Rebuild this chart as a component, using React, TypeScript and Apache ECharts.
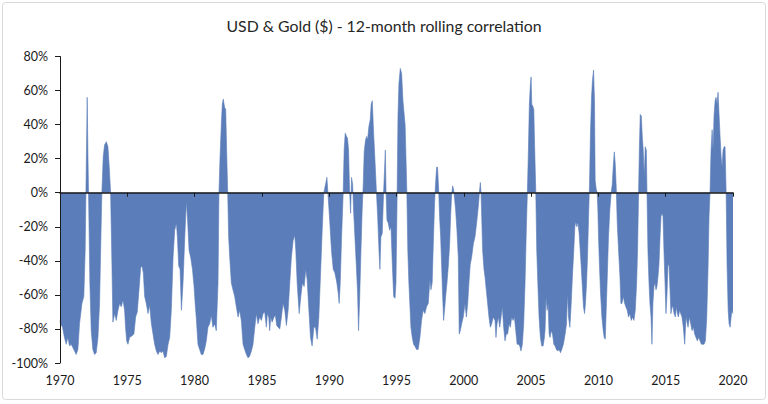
import React, { useEffect, useRef } from "react";
import * as echarts from "echarts";

const TITLE = "USD & Gold ($) - 12-month rolling correlation";
const X_TICKS = [1970, 1975, 1980, 1985, 1990, 1995, 2000, 2005, 2010, 2015, 2020];
const Y_TICKS = [-100, -80, -60, -40, -20, 0, 20, 40, 60, 80];

// [year, correlation %]
const corr1970s: [number, number][] = [
  [1970.0, -75], [1970.04, -77], [1970.19, -79], [1970.33, -85], [1970.46, -89], [1970.58, -85],
  [1970.71, -90], [1970.83, -89], [1970.96, -91], [1971.08, -93], [1971.2, -95], [1971.33, -92],
  [1971.45, -77], [1971.63, -65], [1971.77, -61], [1971.87, -34], [1971.95, 15], [1972.02, 56],
  [1972.07, 25], [1972.12, 0], [1972.22, -53], [1972.32, -81], [1972.44, -92], [1972.57, -95],
  [1972.69, -94], [1972.82, -85], [1972.94, -65], [1973.04, -26], [1973.11, 0], [1973.21, 21],
  [1973.31, 28], [1973.44, 30], [1973.56, 27], [1973.66, 15], [1973.76, 0], [1973.86, -43],
  [1973.93, -76], [1974.06, -71], [1974.18, -75], [1974.31, -69], [1974.43, -65], [1974.55, -67],
  [1974.68, -63], [1974.8, -69], [1974.87, -79], [1974.95, -87], [1975.05, -89], [1975.17, -85],
  [1975.35, -84], [1975.49, -83], [1975.62, -73], [1975.74, -70], [1975.87, -57], [1975.99, -44],
  [1976.09, -43], [1976.19, -47], [1976.29, -61], [1976.41, -65], [1976.54, -71], [1976.66, -66],
  [1976.79, -77], [1976.91, -83], [1977.03, -89], [1977.16, -93], [1977.28, -95], [1977.41, -93],
  [1977.53, -94], [1977.65, -93], [1977.78, -97], [1977.9, -96], [1978.03, -89], [1978.15, -85],
  [1978.27, -69], [1978.4, -38], [1978.52, -22], [1978.65, -18], [1978.72, -26], [1978.82, -43],
  [1978.92, -45], [1979.02, -69], [1979.14, -53], [1979.27, -26], [1979.39, -5], [1979.49, -18],
  [1979.59, -34], [1979.71, -38], [1979.84, -45], [1979.96, -55],
];

const corr1980s: [number, number][] = [
  [1980.05, -66], [1980.12, -73], [1980.25, -89], [1980.37, -92], [1980.5, -95], [1980.62, -95],
  [1980.74, -92], [1980.87, -87], [1980.99, -79], [1981.12, -77], [1981.24, -72], [1981.36, -79],
  [1981.49, -77], [1981.61, -81], [1981.74, -53], [1981.81, 0], [1981.89, 21], [1981.99, 41],
  [1982.06, 52], [1982.13, 55], [1982.23, 50], [1982.31, 49], [1982.38, 25], [1982.46, 0],
  [1982.53, -26], [1982.61, -38], [1982.73, -53], [1982.85, -57], [1982.98, -61], [1983.1, -67],
  [1983.23, -73], [1983.35, -69], [1983.47, -75], [1983.6, -89], [1983.72, -92], [1983.85, -95],
  [1983.97, -97], [1984.09, -96], [1984.22, -93], [1984.34, -89], [1984.47, -79], [1984.59, -71],
  [1984.71, -77], [1984.84, -73], [1984.96, -75], [1985.09, -71], [1985.21, -70], [1985.33, -79],
  [1985.41, -71], [1985.51, -73], [1985.58, -81], [1985.66, -73], [1985.76, -76], [1985.9, -73],
  [1986.0, -72], [1986.1, -78], [1986.2, -79], [1986.33, -80], [1986.45, -73], [1986.57, -65],
  [1986.7, -69], [1986.82, -78], [1986.95, -69], [1987.07, -53], [1987.19, -38], [1987.32, -28],
  [1987.44, -25], [1987.52, -34], [1987.62, -53], [1987.77, -71], [1987.89, -61], [1988.01, -53],
  [1988.14, -55], [1988.26, -45], [1988.36, -51], [1988.49, -69], [1988.61, -85], [1988.73, -90],
  [1988.86, -79], [1988.98, -79], [1989.11, -86], [1989.23, -73], [1989.35, -49], [1989.48, -22],
  [1989.6, 0], [1989.73, 5], [1989.83, 9], [1989.92, -2],
];

const corr1990s: [number, number][] = [
  [1990.05, -18], [1990.17, -34], [1990.3, -45], [1990.42, -47], [1990.57, -53], [1990.67, -59],
  [1990.74, -65], [1990.82, -53], [1990.92, -26], [1991.04, 0], [1991.11, 25], [1991.19, 35],
  [1991.29, 33], [1991.36, 32], [1991.44, 25], [1991.51, 2], [1991.59, -12], [1991.66, 9],
  [1991.74, 5], [1991.81, -10], [1991.91, -26], [1992.01, -42], [1992.11, -59], [1992.18, -81],
  [1992.26, -63], [1992.36, -34], [1992.45, -10], [1992.53, 5], [1992.6, 24], [1992.7, 31],
  [1992.78, 33], [1992.85, 31], [1992.95, 39], [1993.05, 43], [1993.12, 52], [1993.2, 54],
  [1993.3, 35], [1993.4, 19], [1993.5, 2], [1993.6, -14], [1993.7, -34], [1993.77, -45],
  [1993.84, -26], [1993.94, -24], [1994.04, 0], [1994.12, 15], [1994.17, 25], [1994.22, 2],
  [1994.29, -16], [1994.39, -18], [1994.49, -22], [1994.59, -20], [1994.69, -42], [1994.79, -61],
  [1994.89, -62], [1994.96, -53], [1995.04, -6], [1995.11, 45], [1995.18, 64], [1995.28, 73],
  [1995.38, 70], [1995.48, 54], [1995.58, 45], [1995.64, 40], [1995.69, 25], [1995.77, 0],
  [1995.84, -34], [1995.92, -53], [1995.99, -65], [1996.07, -79], [1996.17, -85], [1996.27, -89],
  [1996.36, -90], [1996.49, -92], [1996.61, -92], [1996.74, -85], [1996.86, -75], [1996.98, -69],
  [1997.11, -71], [1997.23, -67], [1997.36, -65], [1997.48, -51], [1997.56, -57], [1997.65, -53],
  [1997.75, -26], [1997.83, -6], [1997.9, 5], [1997.98, 15], [1998.05, 15], [1998.13, 2],
  [1998.2, -14], [1998.28, -26], [1998.35, -42], [1998.42, -59], [1998.5, -75], [1998.57, -69],
  [1998.65, -61], [1998.75, -53], [1998.85, -43], [1998.95, -30], [1999.02, -14], [1999.09, -2],
  [1999.17, 4], [1999.24, 2], [1999.32, -4], [1999.39, -10], [1999.49, -22], [1999.59, -38],
  [1999.66, -83], [1999.74, -81], [1999.84, -77], [1999.96, -73],
];

const corr2000s: [number, number][] = [
  [2000.09, -65], [2000.19, -73], [2000.29, -65], [2000.38, -53], [2000.48, -42], [2000.58, -38],
  [2000.71, -30], [2000.83, -26], [2000.95, -18], [2001.08, -8], [2001.18, 2], [2001.23, 6],
  [2001.28, 0], [2001.33, -14], [2001.4, -34], [2001.5, -45], [2001.57, -49], [2001.67, -57],
  [2001.77, -65], [2001.87, -73], [2001.97, -79], [2002.07, -77], [2002.19, -73], [2002.32, -75],
  [2002.39, -85], [2002.47, -77], [2002.57, -73], [2002.67, -79], [2002.77, -73], [2002.86, -67],
  [2002.96, -79], [2003.06, -87], [2003.16, -83], [2003.26, -83], [2003.36, -77], [2003.46, -79],
  [2003.56, -73], [2003.66, -75], [2003.76, -73], [2003.86, -81], [2003.96, -89], [2004.06, -89],
  [2004.16, -90], [2004.25, -93], [2004.35, -89], [2004.45, -77], [2004.55, -53], [2004.65, -20],
  [2004.73, 2], [2004.8, 25], [2004.87, 52], [2004.95, 64], [2005.0, 68], [2005.05, 52],
  [2005.12, 51], [2005.2, 49], [2005.27, 25], [2005.35, 0], [2005.42, -34], [2005.5, -53],
  [2005.59, -73], [2005.69, -85], [2005.79, -90], [2005.89, -90], [2005.99, -85], [2006.04, -80],
  [2006.11, -61], [2006.19, -69], [2006.26, -65], [2006.34, -83], [2006.41, -85], [2006.49, -81],
  [2006.59, -83], [2006.69, -89], [2006.78, -90], [2006.88, -92], [2006.98, -93], [2007.08, -92],
  [2007.18, -94], [2007.28, -92], [2007.4, -89], [2007.53, -83], [2007.63, -77], [2007.7, -59],
  [2007.78, -73], [2007.88, -79], [2007.98, -65], [2008.07, -49], [2008.17, -34], [2008.25, -20],
  [2008.32, -17], [2008.4, -20], [2008.47, -17], [2008.57, -24], [2008.65, -34], [2008.72, -43],
  [2008.82, -57], [2008.89, -67], [2008.97, -71], [2009.04, -65], [2009.12, -53], [2009.19, -38],
  [2009.27, -14], [2009.34, 5], [2009.41, 35], [2009.49, 56], [2009.56, 66], [2009.64, 72],
  [2009.71, 54], [2009.76, 7], [2009.84, 2], [2009.91, 0], [2009.96, -10],
];

const corr2010s: [number, number][] = [
  [2010.01, -26], [2010.08, -43], [2010.16, -59], [2010.26, -73], [2010.36, -81], [2010.43, -85],
  [2010.51, -86], [2010.58, -69], [2010.66, -49], [2010.75, -26], [2010.85, -10], [2010.95, 0],
  [2011.03, 5], [2011.1, 15], [2011.18, 24], [2011.25, 17], [2011.33, 2], [2011.4, -18],
  [2011.5, -34], [2011.6, -49], [2011.67, -65], [2011.75, -65], [2011.85, -61], [2011.95, -65],
  [2012.04, -67], [2012.14, -69], [2012.24, -73], [2012.34, -71], [2012.44, -75], [2012.54, -73],
  [2012.64, -75], [2012.74, -69], [2012.84, -53], [2012.91, -34], [2012.99, 2], [2013.04, 25],
  [2013.11, 46], [2013.19, 45], [2013.26, 33], [2013.33, 25], [2013.41, 9], [2013.48, 27],
  [2013.56, 25], [2013.61, 0], [2013.68, -34], [2013.76, -53], [2013.83, -65], [2013.91, -73],
  [2013.98, -89], [2014.05, -65], [2014.13, -55], [2014.2, -53], [2014.28, -57], [2014.35, -55],
  [2014.43, -49], [2014.5, -42], [2014.58, -26], [2014.65, -14], [2014.72, -12], [2014.8, -14],
  [2014.87, -34], [2014.95, -53], [2015.02, -71], [2015.1, -59], [2015.17, -42], [2015.25, -43],
  [2015.32, -57], [2015.39, -71], [2015.47, -67], [2015.54, -67], [2015.62, -71], [2015.72, -73],
  [2015.79, -67], [2015.87, -71], [2015.94, -73], [2016.04, -69], [2016.11, -71], [2016.21, -73],
  [2016.31, -79], [2016.41, -89], [2016.51, -73], [2016.66, -79], [2016.76, -73], [2016.86, -77],
  [2016.96, -81], [2017.06, -79], [2017.15, -83], [2017.25, -85], [2017.35, -87], [2017.45, -85],
  [2017.55, -87], [2017.65, -89], [2017.75, -89], [2017.85, -89], [2017.95, -87], [2018.05, -73],
  [2018.15, -43], [2018.22, -14], [2018.3, 2], [2018.37, 25], [2018.45, 37], [2018.52, 25],
  [2018.59, 45], [2018.67, 54], [2018.74, 56], [2018.82, 52], [2018.89, 59], [2018.97, 45],
  [2019.04, 33], [2019.12, 21], [2019.19, 15], [2019.26, 25], [2019.34, 27], [2019.41, 27],
  [2019.49, 0], [2019.56, -43], [2019.64, -69], [2019.71, -77], [2019.79, -79], [2019.86, -73],
  [2019.93, -69], [2020.0, -71],
];

const FONT = "Lato, 'Open Sans', sans-serif";
const FILL = "#5B7DB9";

export default function App() {
  const ref = useRef<HTMLDivElement>(null);
  useEffect(() => {
    if (!ref.current) return;
    const chart = echarts.init(ref.current, undefined, { renderer: "svg" });
    const data = [...corr1970s, ...corr1980s, ...corr1990s, ...corr2000s, ...corr2010s];
    chart.setOption({
      animation: false,
      backgroundColor: "#ffffff",
      title: {
        text: TITLE,
        left: "center",
        top: 12,
        textStyle: { fontFamily: FONT, fontSize: 15.8, fontWeight: "normal", color: "#262626" },
      },
      graphic: [
        {
          type: "rect",
          shape: { x: 2.5, y: 2.5, width: 763, height: 397, r: 3 },
          style: { fill: "none", stroke: "#d9d9d9", lineWidth: 1 },
          silent: true,
        },
      ],
      grid: { left: 60, right: 35, top: 56.5, bottom: 41, containLabel: false },
      xAxis: [
        {
          type: "value",
          min: X_TICKS[0],
          max: X_TICKS[X_TICKS.length - 1],
          interval: 5,
          z: 10,
          axisLine: { show: true, onZero: true, lineStyle: { color: "#1a1a1a", width: 1.5 } },
          axisTick: { show: true, length: 4, lineStyle: { color: "#1a1a1a", width: 1 } },
          axisLabel: { show: false },
          splitLine: { show: false },
        },
        {
          type: "value",
          min: X_TICKS[0],
          max: X_TICKS[X_TICKS.length - 1],
          interval: 5,
          position: "bottom",
          axisLine: { show: false, onZero: false },
          axisTick: { show: false },
          axisLabel: {
            show: true,
            margin: 11,
            fontFamily: FONT,
            fontSize: 12.5,
            color: "#1a1a1a",
            formatter: (v: number) => (X_TICKS.includes(v) ? String(v) : ""),
          },
          splitLine: { show: false },
        },
      ],
      yAxis: {
        type: "value",
        min: Y_TICKS[0],
        max: Y_TICKS[Y_TICKS.length - 1],
        interval: 20,
        z: 10,
        axisLine: { show: true, onZero: false, lineStyle: { color: "#1a1a1a", width: 1 } },
        axisTick: { show: true, length: 5, lineStyle: { color: "#1a1a1a" } },
        axisLabel: {
          margin: 12,
          fontFamily: FONT,
          fontSize: 12.5,
          color: "#1a1a1a",
          formatter: (v: number) => `${v}%`,
        },
        splitLine: { show: false },
      },
      series: [
        {
          type: "line",
          xAxisIndex: 0,
          data,
          showSymbol: false,
          symbol: "none",
          lineStyle: { color: FILL, width: 0.6 },
          areaStyle: { color: FILL, opacity: 1, origin: "auto" },
          itemStyle: { color: FILL },
          z: 2,
        },
      ],
    });
    return () => chart.dispose();
  }, []);
  return (
    <div
      ref={ref}
      style={{ position: "fixed", left: 0, top: 0, width: 768, height: 404, background: "#fff" }}
    />
  );
}
